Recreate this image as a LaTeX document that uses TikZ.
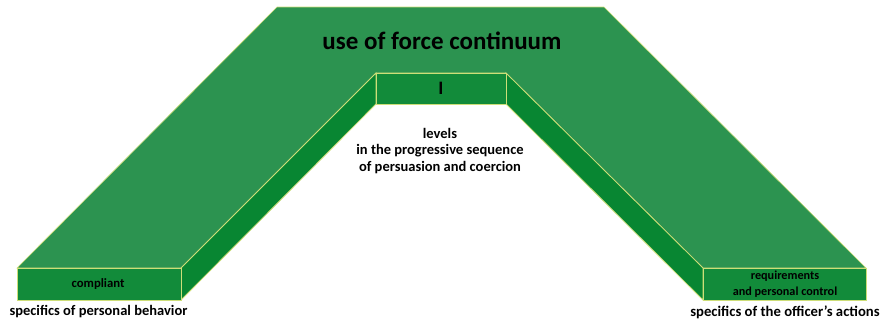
\documentclass[tikz,border=0pt]{standalone}
\usepackage{fontspec}
\setmainfont{Carlito}
\definecolor{topgreen}{RGB}{44,147,80}
\definecolor{frontgreen}{RGB}{18,139,58}
\definecolor{sidegreen}{RGB}{8,134,50}
\definecolor{edgelight}{RGB}{205,222,120}
\tikzset{
  topface/.style={fill=topgreen,draw=edgelight,line width=0.6pt,line join=miter},
  frontface/.style={fill=frontgreen,draw=edgelight,line width=0.8pt},
  sideface/.style={fill=sidegreen,draw=edgelight,line width=0.8pt},
  lbl/.style={font=\bfseries,text=black,align=center,inner sep=0pt}
}
\begin{document}
\begin{tikzpicture}[x=1pt,y=-1pt]
\useasboundingbox (0,0) rectangle (880,322);
% top face
\path[topface] (17,268) -- (277,7) -- (604,7) -- (866,268) -- (703,268) -- (506,73) -- (376,73) -- (181,268) -- cycle;
% side faces
\path[sideface] (181,268) -- (376,73) -- (376,104) -- (181,300) -- cycle;
\path[sideface] (506,73) -- (703,268) -- (703,300) -- (506,104) -- cycle;
% front faces
\path[frontface] (17,268) rectangle (181,300);
\path[frontface] (376,73) rectangle (506,104);
\path[frontface] (703,268) rectangle (866,300);
% labels
\node[lbl,font=\bfseries\fontsize{25}{28}\selectfont] (title) at (442,41) {use of force continuum};
\node[lbl,font=\bfseries\fontsize{19}{22}\selectfont] (lvl) at (441,88) {I};
\node[lbl,font=\bfseries\fontsize{14.5}{16.5}\selectfont] (levels) at (440,151) {levels\\in the progressive sequence\\of persuasion and coercion};
\node[lbl,font=\bfseries\fontsize{12.7}{15}\selectfont] (compl) at (98,284) {compliant};
\node[lbl,font=\bfseries\fontsize{12.2}{16}\selectfont] (req) at (785,284) {requirements\\and personal control};
\node[lbl,font=\bfseries\fontsize{14.5}{16}\selectfont] (spl) at (98.5,312) {specifics of personal behavior};
\node[lbl,font=\bfseries\fontsize{14.7}{16}\selectfont] (spr) at (785,312) {specifics of the officer’s actions};
\end{tikzpicture}
\end{document}
